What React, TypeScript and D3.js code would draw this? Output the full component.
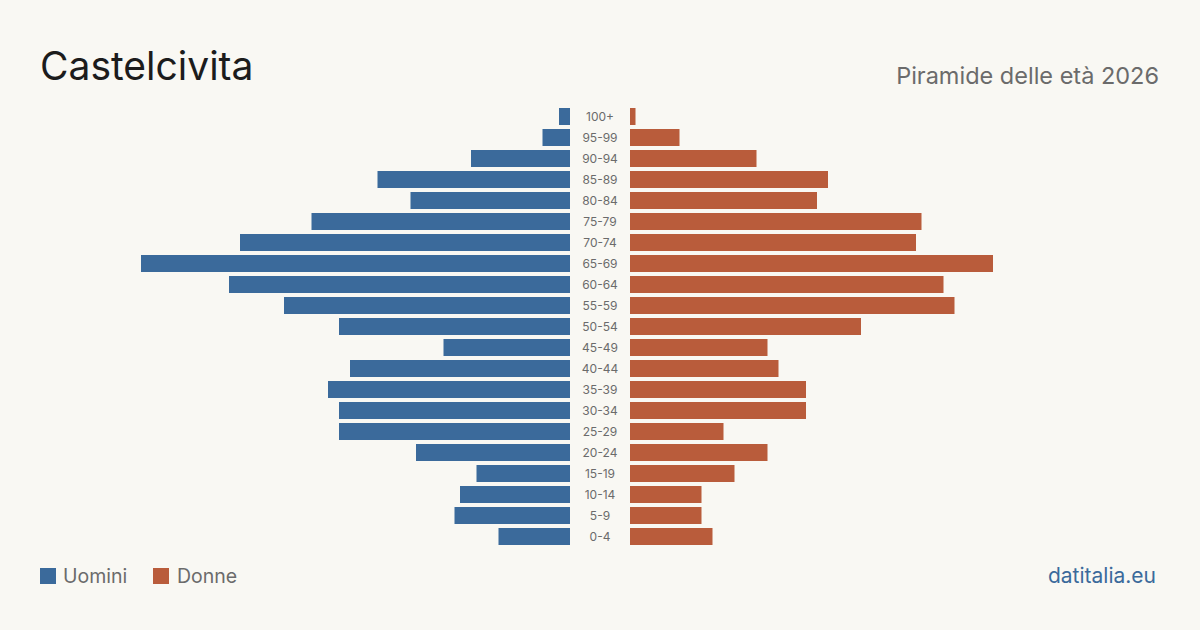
import React, { useEffect } from 'react';
import * as d3 from 'd3';

// age groups, top to bottom
const ageGroups = [
  '100+', '95-99', '90-94', '85-89', '80-84', '75-79', '70-74', '65-69', '60-64', '55-59',
  '50-54', '45-49', '40-44', '35-39', '30-34', '25-29', '20-24', '15-19', '10-14', '5-9', '0-4',
];
const men = [2, 5, 18, 35, 29, 47, 60, 78, 62, 52, 42, 23, 40, 44, 42, 42, 28, 17, 20, 21, 13];
const women = [1, 9, 23, 36, 34, 53, 52, 66, 57, 59, 42, 25, 27, 32, 32, 17, 25, 19, 13, 13, 15];

const W = 1200;
const H = 630;
const BLUE = '#3b6a9b';
const ORANGE = '#b95c3b';
const BG = '#f9f8f3';
const FONT = 'Inter, "Noto Sans", sans-serif';

export default function App() {
  useEffect(() => {
    document.body.style.margin = '0';
    document.body.style.background = BG;
  }, []);

  const maxVal = d3.max([...men, ...women]) as number;
  const half = d3.scaleLinear().domain([0, maxVal]).range([0, 429]);
  const leftEdge = 570;
  const rightEdge = 630;
  // 21px per row, 17px bars
  const y = d3.scaleBand<string>()
    .domain(ageGroups)
    .range([108, 108 + 21 * (ageGroups.length - 1) + 17])
    .paddingInner(4 / 21)
    .paddingOuter(0);
  const bh = y.bandwidth();

  return (
    <svg width={W} height={H} style={{ display: 'block', background: BG, fontFamily: FONT }}>
      <rect width={W} height={H} fill={BG} />
      <text x={40} y={80} fontSize={39} fill="#1c1c1c" fontWeight={400}>Castelcivita</text>
      <text x={1159} y={84} fontSize={23.5} fill="#6b6b6b" textAnchor="end">Piramide delle età 2026</text>

      {ageGroups.map((g, i) => {
        const top = y(g) as number;
        return (
          <g key={g}>
            <rect x={leftEdge - half(men[i])} y={top} width={half(men[i])} height={bh} fill={BLUE} />
            <rect x={rightEdge} y={top} width={half(women[i])} height={bh} fill={ORANGE} />
            <text x={600} y={top + bh / 2} dy="0.35em" textAnchor="middle" fontSize={12} fill="#6b6b6b">{g}</text>
          </g>
        );
      })}

      <rect x={40} y={568} width={16} height={16} fill={BLUE} />
      <text x={63} y={583} fontSize={19.5} fill="#6b6b6b">Uomini</text>
      <rect x={153} y={568} width={16} height={16} fill={ORANGE} />
      <text x={177} y={583} fontSize={19.5} fill="#6b6b6b">Donne</text>

      <text x={1156} y={583} fontSize={21} fill={BLUE} textAnchor="end">datitalia.eu</text>
    </svg>
  );
}
